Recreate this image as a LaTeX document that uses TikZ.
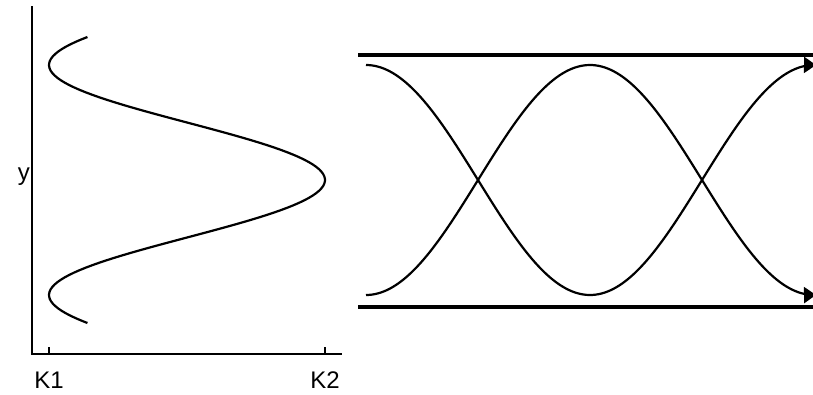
\documentclass[tikz,border=0pt]{standalone}
\usepackage{fontspec}
\setmainfont{Liberation Sans}
\usetikzlibrary{arrows.meta}

\begin{document}
\begin{tikzpicture}[
    x=1pt, y=-1pt,
    axis/.style={line width=1.2pt},
    wave/.style={line width=2.2pt},
    rail/.style={line width=4.5pt},
    tick/.style={font=\fontsize{24}{28}\selectfont, inner sep=0pt}
]
    \useasboundingbox (0,0) rectangle (813,394);

    % axes of the left plot
    \coordinate (origin) at (32,354);
    \draw[axis] (32,6) -- (origin) -- (342,354);
    \draw[axis] (49,354) -- (49,347);
    \draw[axis] (325,354) -- (325,347);
    \node[tick, anchor=base] (kone) at (49,388) {K1};
    \node[tick, anchor=base] (ktwo) at (325,388) {K2};
    \node[tick, anchor=base east] (ylab) at (30,180) {y};

    % profile
    \draw[wave] plot[domain=37:323, samples=120] ({187+138*cos((\x-180)/115*180)}, \x);

    % rails
    \draw[rail] (358,55) -- (813,55);
    \draw[rail] (358,307) -- (813,307);

    % two crossing waves
    \draw[wave, -{Triangle[length=12pt, width=16pt]}]
        plot[domain=366:816, samples=150] (\x, {180-115*cos((\x-366)/224*180)});
    \draw[wave, -{Triangle[length=12pt, width=16pt]}]
        plot[domain=366:816, samples=150] (\x, {180+115*cos((\x-366)/224*180)});
\end{tikzpicture}
\end{document}
